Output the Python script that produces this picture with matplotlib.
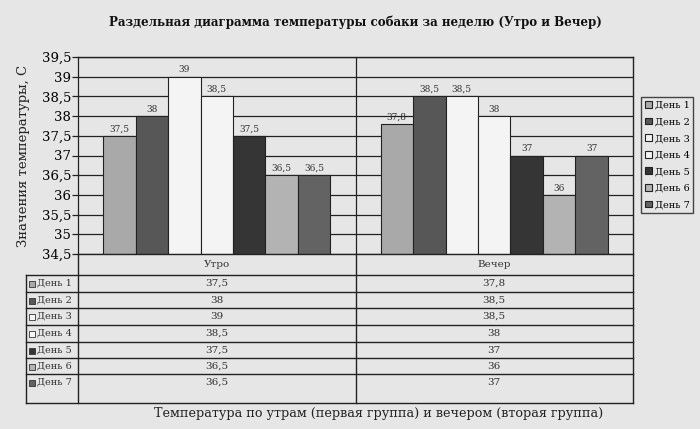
import matplotlib
matplotlib.use("Agg")
import matplotlib.pyplot as plt
import numpy as np

groups = ["Утро", "Вечер"]
days = ["День 1", "День 2", "День 3", "День 4", "День 5", "День 6", "День 7"]
morning = [37.5, 38, 39, 38.5, 37.5, 36.5, 36.5]
evening = [37.8, 38.5, 38.5, 38, 37, 36, 37]
yticks = [34.5, 35, 35.5, 36, 36.5, 37, 37.5, 38, 38.5, 39, 39.5]
colors = ["#a9a9a9", "#575757", "#f4f4f4", "#f4f4f4", "#353535", "#b3b3b3", "#636363"]

title = "Раздельная диаграмма температуры собаки за неделю (Утро и Вечер)"
xlabel = "Температура по утрам (первая группа) и вечером (вторая группа)"
ylabel = "Значения температуры, С"

BG = "#e6e6e6"
FONT = ["DejaVu Serif"]
plt.rcParams["font.family"] = FONT

def fmt(v):
    return f"{v:g}".replace(".", ",")

W, H = 700, 429
fig = plt.figure(figsize=(W / 100, H / 100), dpi=100, facecolor=BG)

# layout in pixels
L, R, T, B = 78, 633, 57, 254
TL = 26          # table left edge
CAT_B = 275      # bottom of category row
row_edges = [275, 292, 308, 325, 342, 358, 374, 403]

ax = fig.add_axes([L / W, 1 - B / H, (R - L) / W, (B - T) / H])
ax.set_facecolor(BG)
ax.set_xlim(-0.5, 1.5)
ax.set_ylim(yticks[0], yticks[-1])

n = len(days)
bw = 0.117
x = np.arange(len(groups))
data = [morning, evening]
handles = []
for i in range(n):
    vals = [data[g][i] for g in range(len(groups))]
    pos = x + (i - (n - 1) / 2) * bw
    bars = ax.bar(pos, [v - yticks[0] for v in vals], bottom=yticks[0], width=bw,
                  color=colors[i], edgecolor="#222222", linewidth=0.8, zorder=3,
                  label=days[i])
    handles.append(bars)
    for p, v in zip(pos, vals):
        ax.text(p, v + 0.06, fmt(v), ha="center", va="bottom", fontsize=6.5,
                color="#333333", zorder=4, fontfamily="DejaVu Serif")

for yv in yticks:
    ax.axhline(yv, color="#222222", linewidth=0.9, zorder=1)
ax.axvline(0.5, color="#222222", linewidth=0.9, zorder=1)

ax.set_yticks(yticks)
ax.set_yticklabels([fmt(v) for v in yticks], fontsize=9.5, fontfamily="DejaVu Serif")
ax.tick_params(axis="y", length=4, width=0.9, pad=1, color="#222222")
ax.set_xticks([])
for s in ["top", "right", "bottom"]:
    ax.spines[s].set_visible(False)
ax.spines["left"].set_linewidth(0.9)
ax.spines["left"].set_color("#222222")
ax.set_ylabel(ylabel, fontsize=9.5, labelpad=8, fontfamily="DejaVu Serif",
              color="#222222")

# legend
leg = fig.legend(handles=handles, labels=days, loc="upper left",
                 bbox_to_anchor=(641 / W, 1 - 97 / H), fontsize=7,
                 handlelength=0.7, handleheight=0.7, handletextpad=0.3,
                 labelspacing=0.78, borderpad=0.4, borderaxespad=0,
                 fancybox=False, framealpha=1, facecolor=BG, edgecolor="#444444",
                 prop={"family": "DejaVu Serif", "size": 7})
leg.get_frame().set_linewidth(1.0)

# overlay for table
ov = fig.add_axes([0, 0, 1, 1], zorder=5)
ov.set_xlim(0, W)
ov.set_ylim(H, 0)
ov.axis("off")
ov.patch.set_alpha(0)

lc = "#222222"
lw = 1.0
ov.plot([L, R], [T, T], color=lc, lw=lw)
ov.plot([R, R], [T, row_edges[-1]], color=lc, lw=lw)
ov.plot([L, L], [B, row_edges[-1]], color=lc, lw=lw)
mid = (L + R) / 2
ov.plot([mid, mid], [B, row_edges[-1]], color=lc, lw=lw)
ov.plot([L, R], [B, B], color=lc, lw=lw)
ov.plot([TL, TL], [row_edges[0], row_edges[-1]], color=lc, lw=lw)
for yy in row_edges:
    ov.plot([TL, R], [yy, yy], color=lc, lw=lw)

for gi, g in enumerate(groups):
    cx = L + (gi + 0.5) * (R - L) / len(groups)
    ov.text(cx, (B + CAT_B) / 2, g, ha="center", va="center", fontsize=7.5,
            color="#333333")

for i in range(n):
    ty = row_edges[i] + 8.5
    ov.add_patch(plt.Rectangle((29, ty - 3), 6, 6, facecolor=colors[i],
                               edgecolor="#333333", lw=0.6))
    ov.text(37, ty, days[i], ha="left", va="center", fontsize=7, color="#333333")
    for gi in range(len(groups)):
        cx = L + (gi + 0.5) * (R - L) / len(groups)
        ov.text(cx, ty, fmt(data[gi][i]), ha="center", va="center", fontsize=7.5,
                color="#333333")

fig.text(355 / W, 1 - 22 / H, title, ha="center", va="center", fontsize=8.6,
         fontweight="bold", color="#111111")
fig.text(379 / W, 1 - 413 / H, xlabel, ha="center", va="center", fontsize=9.2,
         color="#222222")

fig.savefig("out.png", dpi=100, facecolor=BG)
